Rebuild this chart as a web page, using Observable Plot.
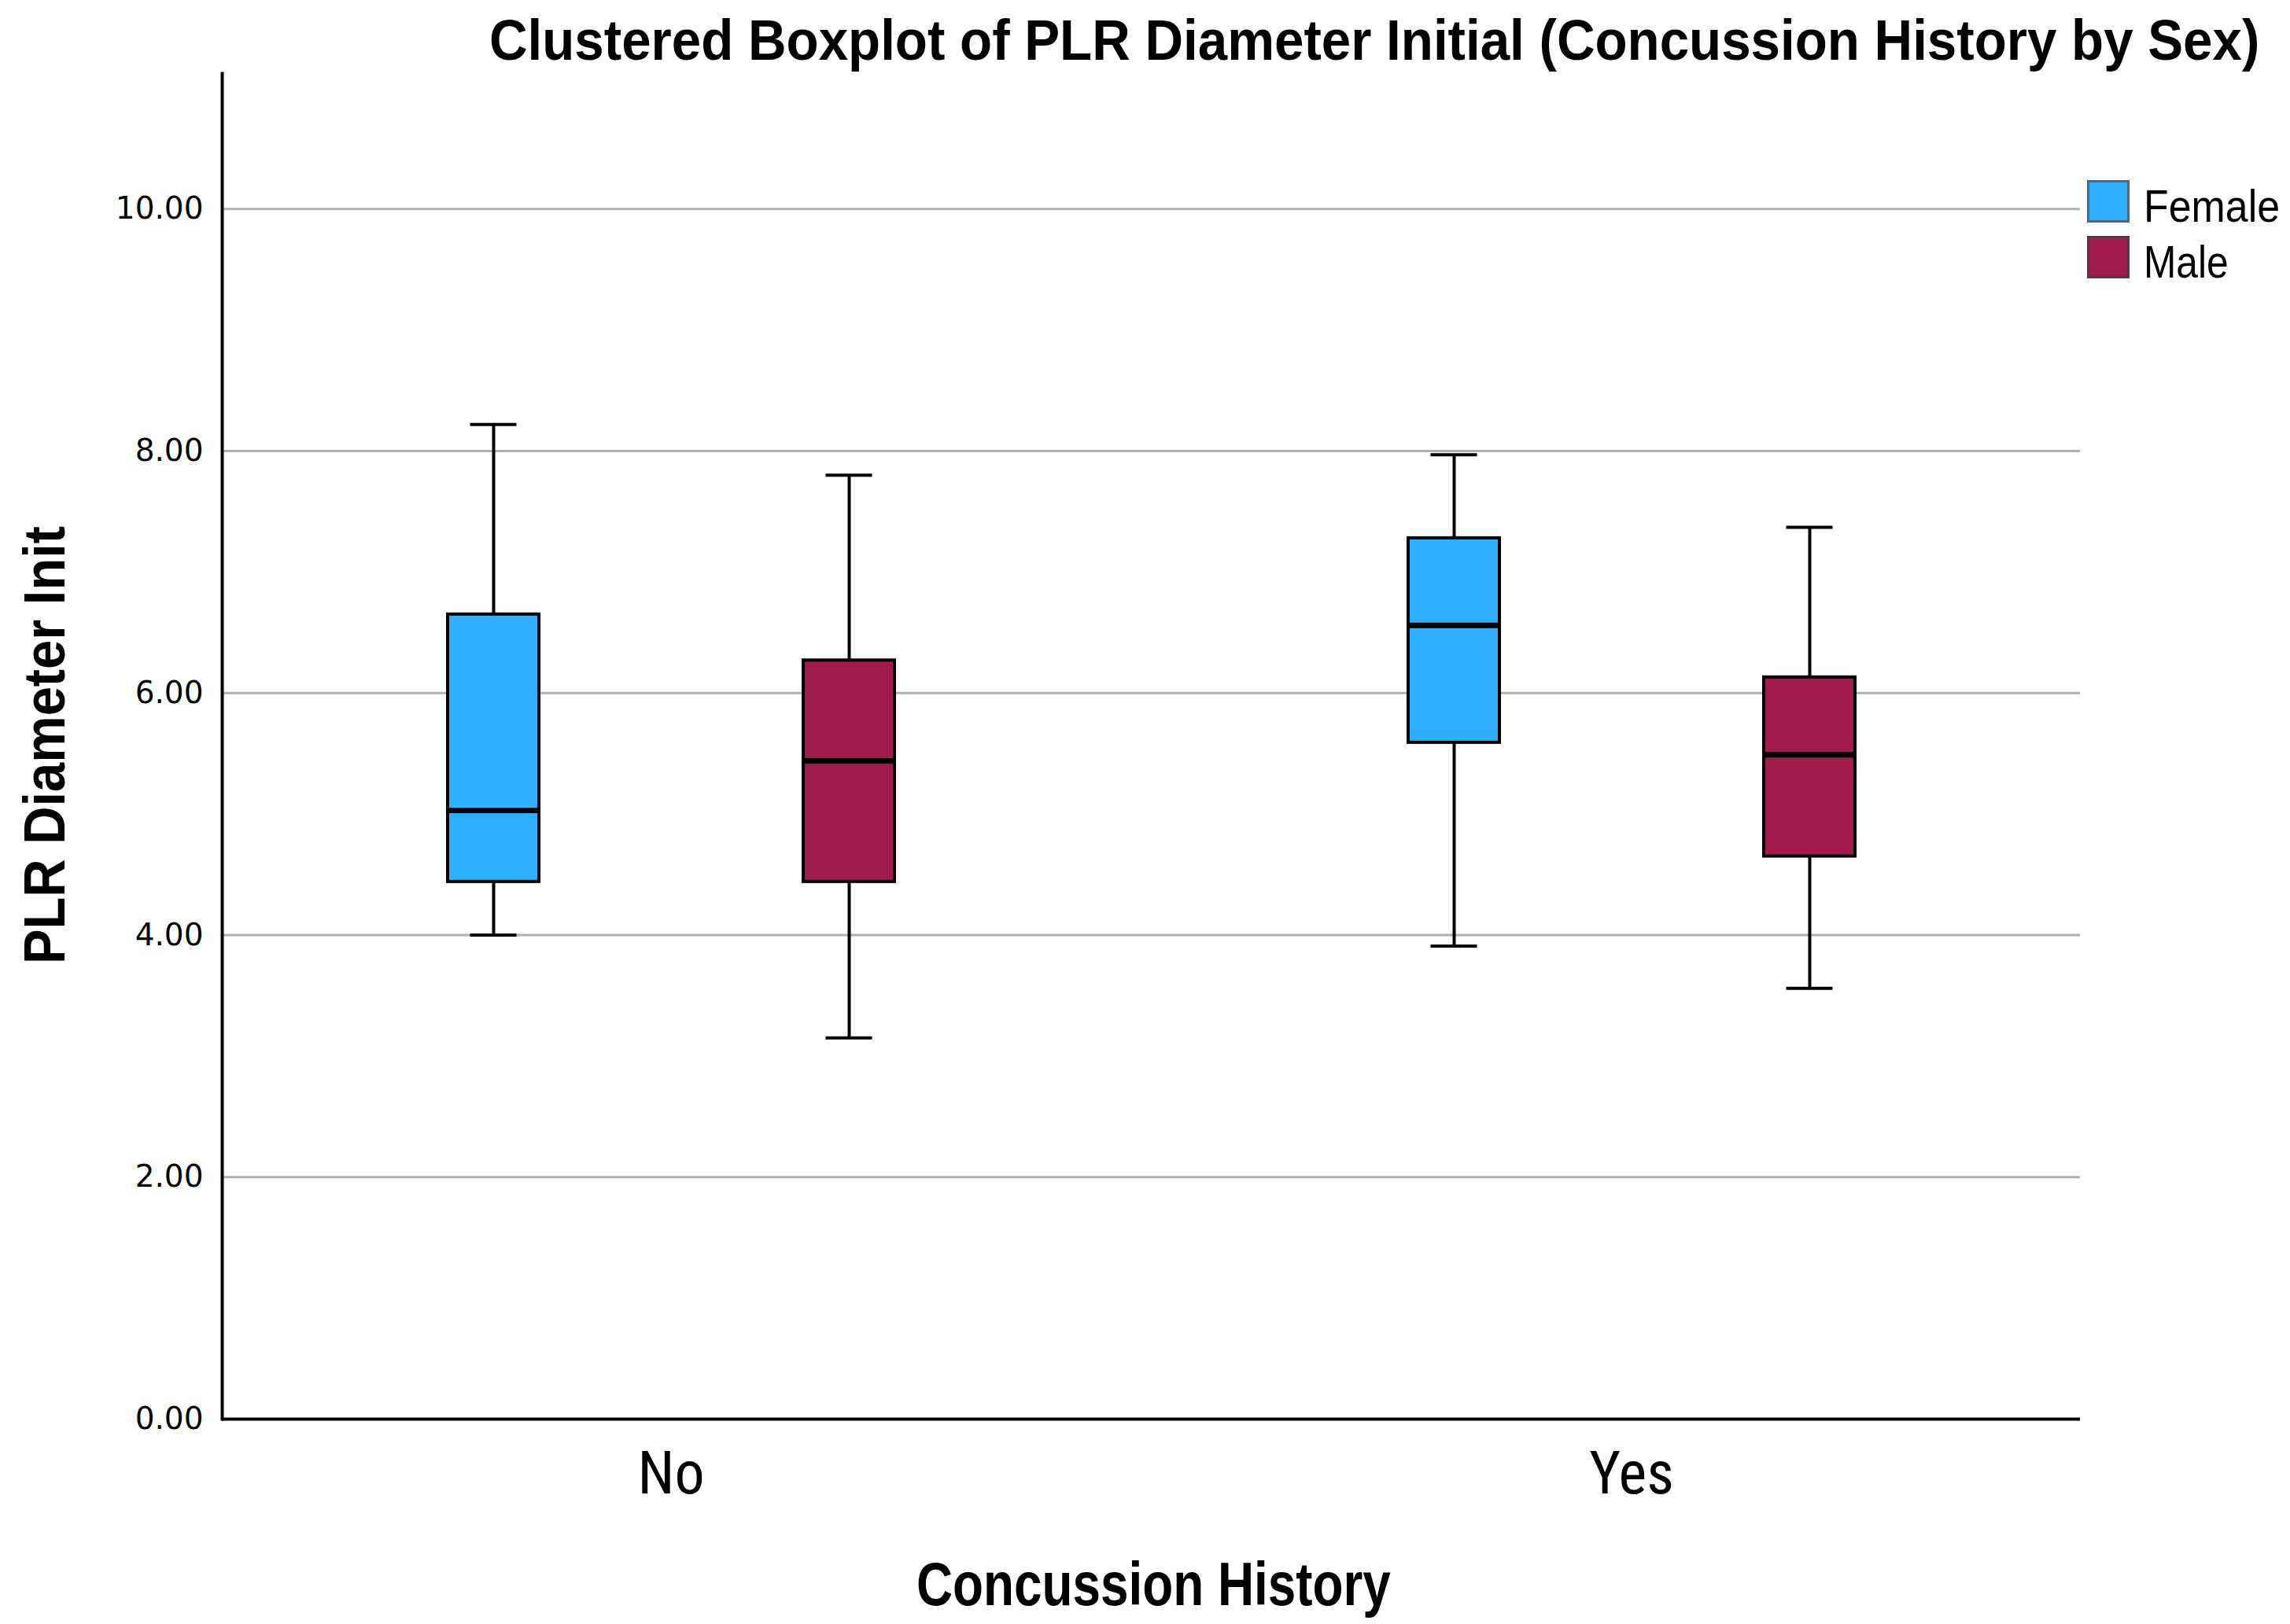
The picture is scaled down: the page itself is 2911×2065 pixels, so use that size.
<!DOCTYPE html>
<html><head><meta charset="utf-8">
<script src="https://cdn.jsdelivr.net/npm/d3@7"></script>
<script src="https://cdn.jsdelivr.net/npm/@observablehq/plot@0.6"></script>
<style>
html,body{margin:0;padding:0;background:#fff;}
#chart{position:relative;width:2911px;height:2065px;padding-top:93px;box-sizing:border-box;overflow:hidden;font-family:"Liberation Sans",Arial,sans-serif;color:#000;}
.abs{position:absolute;white-space:nowrap;line-height:1;}
.sw{position:absolute;box-sizing:border-box;border:3px solid;}
</style></head><body><div id="chart"></div>
<script>
// ---- data ----
const categories = ["No", "Yes"];
const sexes = ["Female", "Male"];
const colors = ["#30aeff", "#a01a4c"];
const legendBorders = ["#4c6a80", "#5e3346"];
const history = ["No", "No", "Yes", "Yes"];
const sex = ["Female", "Male", "Female", "Male"];
const whiskerLow = [4.00, 3.15, 3.91, 3.56];
const q1 = [4.44, 4.44, 5.59, 4.65];
const median = [5.03, 5.44, 6.56, 5.49];
const q3 = [6.65, 6.27, 7.28, 6.13];
const whiskerHigh = [8.22, 7.80, 7.97, 7.37];
const yTicks = [0, 2, 4, 6, 8, 10];
const yMax = 11.12;
const titleText = "Clustered Boxplot of PLR Diameter Initial (Concussion History by Sex)";
const xTitle = "Concussion History";
const yTitle = "PLR Diameter Init";

const rows = history.map((h, i) => ({
  history: h, sex: sex[i], lo: whiskerLow[i], q1: q1[i], med: median[i], q3: q3[i], hi: whiskerHigh[i]
}));

const chart = document.getElementById("chart");

const W = 2911, H = 1972, mL = 282, mR = 266, mT = 0, mB = 261;
const fxPadInner = 0.0655;
const innerW = W - mL - mR;
const gapPx = innerW * fxPadInner / (2 - fxPadInner);
const gridTicks = yTicks.filter(d => d > 0);
const gridStyle = {stroke: "#b0b0b0", strokeWidth: 3};
const baseStyle = {stroke: "#000", strokeWidth: 4};
const lineW = 4;

const plot = Plot.plot({
  width: W,
  height: H,
  marginTop: mT,
  marginBottom: mB,
  marginLeft: mL,
  marginRight: mR,
  style: {background: "#fff", fontFamily: "Liberation Sans, Arial, sans-serif", color: "#000", overflow: "visible"},
  fx: {domain: categories, paddingInner: fxPadInner, paddingOuter: 0, label: null},
  x: {domain: sexes, paddingInner: 0.744, paddingOuter: 0.6325, axis: null},
  y: {domain: [0, yMax], label: null},
  color: {domain: sexes, range: colors},
  marks: [
    // gridlines: first facet extended across the gap so lines are continuous
    Plot.ruleY(gridTicks, {y: d => d, fx: () => categories[0], insetRight: -gapPx, ...gridStyle}),
    Plot.ruleY(gridTicks, {y: d => d, fx: () => categories[1], ...gridStyle}),
    Plot.ruleY([0], {y: d => d, fx: () => categories[0], insetRight: -gapPx, ...baseStyle}),
    Plot.ruleY([0], {y: d => d, fx: () => categories[1], ...baseStyle}),
    // left axis line (drawn on the first facet only)
    Plot.frame({anchor: "left", fx: () => categories[0], stroke: "#000", strokeWidth: 4}),
    Plot.axisY(yTicks, {
      tickSize: 0, tickPadding: 24, tickFormat: d => d.toFixed(2),
      fontSize: 39, fontFamily: "DejaVu Sans", label: null
    }),
    Plot.axisFx({
      anchor: "bottom", tickSize: 0, tickPadding: 41, fontSize: 76,
      fontFamily: "Liberation Sans Narrow, Roboto Condensed, Liberation Sans, sans-serif", label: null
    }),
    Plot.ruleX(rows, {fx: "history", x: "sex", y1: "lo", y2: "hi", stroke: "#000", strokeWidth: lineW}),
    Plot.tickY(rows, {fx: "history", x: "sex", y: "lo", inset: 28.5, stroke: "#000", strokeWidth: lineW}),
    Plot.tickY(rows, {fx: "history", x: "sex", y: "hi", inset: 28.5, stroke: "#000", strokeWidth: lineW}),
    Plot.barY(rows, {fx: "history", x: "sex", y1: "q1", y2: "q3", fill: "sex", stroke: "#000", strokeWidth: lineW}),
    Plot.tickY(rows, {fx: "history", x: "sex", y: "med", stroke: "#000", strokeWidth: 7})
  ]
});
plot.style.display = "block";
chart.appendChild(plot);

// ---- text helpers ----
function addText(text, {fontSize, bold, left, cx, cy, width, rotate}) {
  const el = document.createElement("span");
  el.className = "abs";
  el.textContent = text;
  el.style.fontSize = fontSize + "px";
  el.style.fontWeight = bold ? "bold" : "normal";
  chart.appendChild(el);
  const w = el.offsetWidth, h = el.offsetHeight;
  const k = width / w;
  const top = cy - 0.49 * fontSize;
  if (rotate) {
    el.style.left = (cx - w / 2) + "px";
    el.style.top = (cy - h / 2) + "px";
    el.style.transformOrigin = "50% 50%";
    el.style.transform = `rotate(-90deg) scaleX(${k})`;
  } else {
    el.style.left = (left != null ? left : cx - width / 2) + "px";
    el.style.top = top + "px";
    el.style.transformOrigin = "0 50%";
    el.style.transform = `scaleX(${k})`;
  }
  return el;
}

addText(titleText, {fontSize: 72, bold: true, left: 622, cy: 50, width: 2250});
addText(xTitle, {fontSize: 78, bold: true, cx: 1466, cy: 2013, width: 603});
addText(yTitle, {fontSize: 75, bold: true, cx: 56, cy: 947, width: 557, rotate: true});

// ---- legend ----
const legendLabelWidths = [173, 108];
sexes.forEach((s, i) => {
  const top = 229 + i * 71;
  const sw = document.createElement("div");
  sw.className = "sw";
  sw.style.left = "2653px";
  sw.style.top = top + "px";
  sw.style.width = "54px";
  sw.style.height = "54px";
  sw.style.background = colors[i];
  sw.style.borderColor = legendBorders[i];
  chart.appendChild(sw);
  addText(s, {fontSize: 57, bold: false, left: 2725, cy: top + 33, width: legendLabelWidths[i]});
});
</script>
</body></html>
